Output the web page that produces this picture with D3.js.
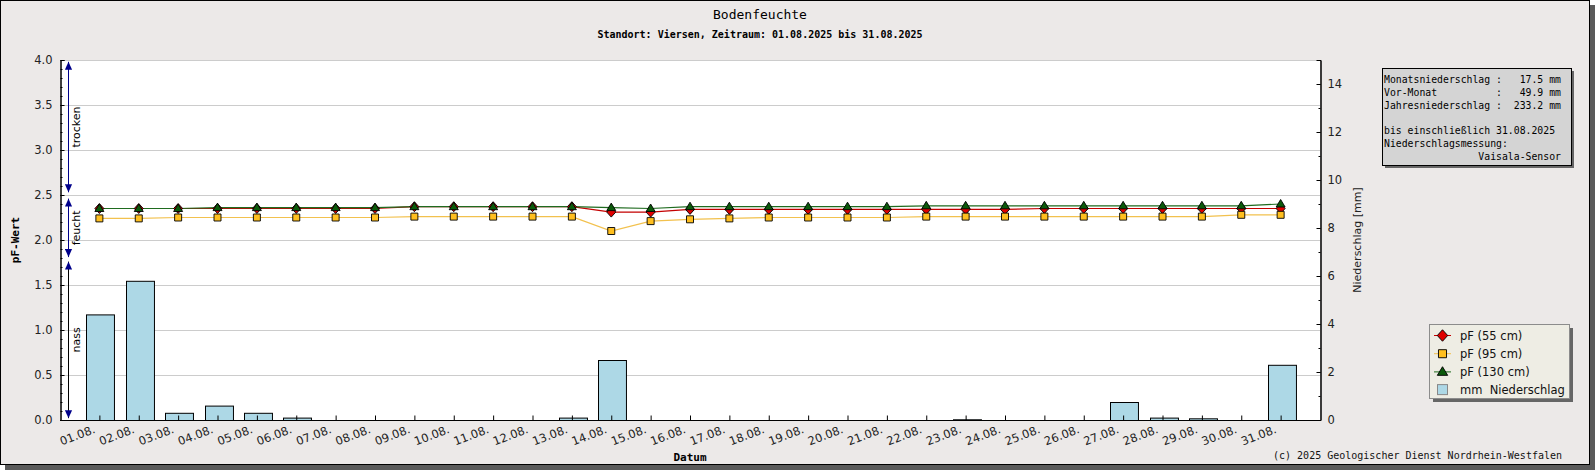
<!DOCTYPE html>
<html>
<head>
<meta charset="utf-8">
<script src="https://cdn.jsdelivr.net/npm/d3@7"></script>
<style>
  body { margin: 0; padding: 0; background: #ffffff; }
  svg text { white-space: pre; }
</style>
</head>
<body>
<div id="chart"></div>
<script>
// categories (days of August 2025)
var days = ["01.08.", "02.08.", "03.08.", "04.08.", "05.08.", "06.08.", "07.08.", "08.08.",
            "09.08.", "10.08.", "11.08.", "12.08.", "13.08.", "14.08.", "15.08.", "16.08.",
            "17.08.", "18.08.", "19.08.", "20.08.", "21.08.", "22.08.", "23.08.", "24.08.",
            "25.08.", "26.08.", "27.08.", "28.08.", "29.08.", "30.08.", "31.08."]

// daily precipitation [mm]
var rain = [4.4, 5.8, 0.3, 0.6, 0.3, 0.1, 0, 0, 0, 0, 0, 0, 0.1, 2.5, 0, 0,
            0, 0, 0, 0, 0, 0, 0.03, 0, 0, 0, 0.75, 0.1, 0.07, 0, 2.3]

// pF values per depth
var pf55 = [2.35, 2.35, 2.35, 2.35, 2.35, 2.35, 2.35, 2.35, 2.37, 2.37, 2.37, 2.37, 2.37, 2.31, 2.31, 2.34,
            2.34, 2.34, 2.34, 2.34, 2.34, 2.34, 2.34, 2.34, 2.35, 2.35, 2.35, 2.35, 2.35, 2.35, 2.35]
var pf95 = [2.24, 2.24, 2.25, 2.25, 2.25, 2.25, 2.25, 2.25, 2.26, 2.26, 2.26, 2.26, 2.26, 2.10, 2.21, 2.23,
            2.24, 2.25, 2.25, 2.25, 2.25, 2.26, 2.26, 2.26, 2.26, 2.26, 2.26, 2.26, 2.26, 2.28, 2.28]
var pf130 = [2.35, 2.35, 2.35, 2.36, 2.36, 2.36, 2.36, 2.36, 2.37, 2.37, 2.37, 2.37, 2.37, 2.36, 2.35, 2.37,
             2.37, 2.37, 2.37, 2.37, 2.37, 2.38, 2.38, 2.38, 2.38, 2.38, 2.38, 2.38, 2.38, 2.38, 2.40]

// tick values
var leftTicks = [0, 0.5, 1, 1.5, 2, 2.5, 3, 3.5, 4]
var rightTicks = [0, 2, 4, 6, 8, 10, 12, 14]

// moisture zones on the left (pF range)
var zoneNames = ["trocken", "feucht", "nass"]
var zoneLo = [2.53, 1.81, 0.02]
var zoneHi = [3.98, 2.46, 1.76]

// info box text
var infoLines = [
  "Monatsniederschlag :   17.5 mm",
  "Vor-Monat          :   49.9 mm",
  "Jahresniederschlag :  233.2 mm",
  "",
  "bis einschließlich 31.08.2025",
  "Niederschlagsmessung:",
  "                Vaisala-Sensor"
]

var legendNames = ["pF (55 cm)", "pF (95 cm)", "pF (130 cm)", "mm  Niederschlag"]

var width = 1595, height = 470
var margins = {top: 60, left: 60, right: 275, bottom: 50}
var bg = "#ece9e8"
var mono = "'DejaVu Sans Mono', monospace"
var sans = "'DejaVu Sans', sans-serif"

var svg = d3.select("#chart").append("svg")
            .attr("width", width)
            .attr("height", height)

// frame + shadow
svg.append("rect").attr("x", 5).attr("y", 5).attr("width", width - 5).attr("height", height - 5).attr("fill", "#5a5a5a")
svg.append("rect").attr("x", 0.5).attr("y", 0.5).attr("width", 1589).attr("height", 464)
   .attr("fill", bg).attr("stroke", "#000")

var x0 = margins.left, x1 = width - margins.right
var y0 = height - margins.bottom, y1 = margins.top

var scalex = d3.scaleLinear().domain([0, days.length + 1]).range([x0, x1])
var scaley = d3.scaleLinear().domain([0, 4]).range([y0, y1])
var scaler = d3.scaleLinear().domain([0, 15]).range([y0, y1])

// plot background
svg.append("rect").attr("x", x0).attr("y", y1).attr("width", x1 - x0).attr("height", y0 - y1).attr("fill", "#fff")

// grid
svg.append("g").selectAll("line").data(leftTicks).enter().append("line")
   .attr("x1", x0).attr("x2", x1)
   .attr("y1", function (d) { return Math.round(scaley(d)) + 0.5 })
   .attr("y2", function (d) { return Math.round(scaley(d)) + 0.5 })
   .attr("stroke", "#cccccc")

// bars
var step = scalex(1) - scalex(0)
var bw = step * 0.71
svg.append("g").selectAll("rect").data(rain).enter().append("rect")
   .attr("x", function (d, i) { return Math.round(scalex(i + 1) + 1 - bw / 2) + 0.5 })
   .attr("y", function (d) { return scaler(d) + 0.5 })
   .attr("width", bw)
   .attr("height", function (d) { return Math.max(0, y0 - scaler(d)) })
   .attr("fill", "#add8e6")
   .attr("stroke", "#000")
   .attr("stroke-width", 1)

function markerPath(shape) {
  if (shape == "diamond") return "M0,-5L4.5,0L0,5L-4.5,0Z"
  if (shape == "square") return "M-3.5,-3.5H3.5V3.5H-3.5Z"
  return "M0,-4.5L4.5,3L-4.5,3Z"
}

var series = [
  {name: "55", values: pf55, line: "#c40000", fill: "#e00000", shape: "diamond"},
  {name: "95", values: pf95, line: "#f2c14e", fill: "#ffbf1f", shape: "square"},
  {name: "130", values: pf130, line: "#1f6b1f", fill: "#0b5a0b", shape: "triangle"}
]

var linegenerator = d3.line()
                      .x(function (d, i) { return scalex(i + 1) })
                      .y(function (d) { return scaley(d) })

series.forEach(function (s) {
  svg.append("path")
     .attr("d", linegenerator(s.values))
     .attr("stroke", s.line)
     .attr("stroke-width", 1.2)
     .attr("fill", "none")
})
series.forEach(function (s) {
  svg.append("g").selectAll("path").data(s.values).enter().append("path")
     .attr("d", markerPath(s.shape))
     .attr("transform", function (d, i) { return "translate(" + scalex(i + 1) + "," + scaley(d) + ")" })
     .attr("fill", s.fill)
     .attr("stroke", "#000")
     .attr("stroke-width", 0.9)
})

// left axis
var gl = svg.append("g").attr("transform", "translate(" + (x0 + 0.5) + ",0)")
gl.call(d3.axisLeft(scaley).tickValues(d3.range(0, 41).map(function (d) { return d / 10 }))
         .tickSize(-2).tickFormat(""))
gl.append("g").call(d3.axisLeft(scaley).tickValues(leftTicks).tickSize(-4).tickPadding(8)
         .tickFormat(d3.format(".1f")))
gl.selectAll("path.domain").attr("stroke", "#000")
gl.selectAll("text").attr("font-family", sans).attr("font-size", 11.5).attr("fill", "#222")

// right axis
var gr = svg.append("g").attr("transform", "translate(" + (x1 + 0.5) + ",0)")
gr.call(d3.axisRight(scaler).tickValues(d3.range(0, 16)).tickSize(-2).tickFormat(""))
gr.append("g").call(d3.axisRight(scaler).tickValues(rightTicks).tickSize(-4).tickPadding(7)
         .tickFormat(d3.format("d")))
gr.selectAll("text").attr("font-family", sans).attr("font-size", 11.5).attr("fill", "#222")

// bottom axis
var gb = svg.append("g").attr("transform", "translate(0," + (y0 + 0.5) + ")")
gb.call(d3.axisBottom(scalex).tickValues(d3.range(1, days.length + 1)).tickSize(-5)
         .tickFormat(function (d) { return days[d - 1] }))
gb.select("path.domain").attr("d", "M" + x0 + ",0H" + x1)
gb.selectAll("text")
  .attr("font-family", sans).attr("font-size", 11.5).attr("fill", "#222")
  .attr("text-anchor", "end").attr("y", 0).attr("dy", 0)
  .attr("transform", "translate(-4,12) rotate(-21)")

// zone arrows
var defs = svg.append("defs")
defs.append("marker").attr("id", "ah").attr("viewBox", "0 0 10 10").attr("refX", 10).attr("refY", 5)
    .attr("markerWidth", 8).attr("markerHeight", 8).attr("orient", "auto-start-reverse")
    .attr("markerUnits", "userSpaceOnUse")
    .append("path").attr("d", "M0,0.5L10,5L0,9.5Z").attr("fill", "#00008b")
var zoneColors = ["#00008b", "#00008b", "#000"]
var ax = x0 + 8.5
zoneNames.forEach(function (z, i) {
  svg.append("line")
     .attr("x1", ax).attr("x2", ax)
     .attr("y1", scaley(zoneHi[i])).attr("y2", scaley(zoneLo[i]))
     .attr("stroke", zoneColors[i]).attr("stroke-width", 1)
     .attr("marker-start", "url(#ah)").attr("marker-end", "url(#ah)")
  var cy = (scaley(zoneHi[i]) + scaley(zoneLo[i])) / 2
  svg.append("text")
     .attr("transform", "translate(" + (x0 + 20) + "," + cy + ") rotate(-90)")
     .attr("text-anchor", "middle")
     .attr("font-family", sans).attr("font-size", 11).attr("fill", "#000")
     .text(z)
})

// titles
svg.append("text").attr("x", 760).attr("y", 19).attr("text-anchor", "middle")
   .attr("font-family", mono).attr("font-size", 13).text("Bodenfeuchte")
svg.append("text").attr("x", 760).attr("y", 38).attr("text-anchor", "middle")
   .attr("font-family", mono).attr("font-size", 10).attr("font-weight", "bold")
   .text("Standort: Viersen, Zeitraum: 01.08.2025 bis 31.08.2025")
svg.append("text").attr("x", (x0 + x1) / 2).attr("y", 461).attr("text-anchor", "middle")
   .attr("font-family", mono).attr("font-size", 11).attr("font-weight", "bold").text("Datum")
svg.append("text").attr("transform", "translate(19," + (y0 + y1) / 2 + ") rotate(-90)")
   .attr("text-anchor", "middle")
   .attr("font-family", mono).attr("font-size", 11).attr("font-weight", "bold").text("pF-Wert")
svg.append("text").attr("transform", "translate(1361," + (y0 + y1) / 2 + ") rotate(-90)")
   .attr("text-anchor", "middle")
   .attr("font-family", sans).attr("font-size", 11).attr("fill", "#222").text("Niederschlag [mm]")
svg.append("text").attr("x", 1562).attr("y", 459).attr("text-anchor", "end")
   .attr("font-family", mono).attr("font-size", 10).attr("fill", "#111")
   .text("(c) 2025 Geologischer Dienst Nordrhein-Westfalen")

// info box
var ib = {x: 1382, y: 68, w: 189, h: 97}
svg.append("rect").attr("x", ib.x + 3).attr("y", ib.y + 3).attr("width", ib.w).attr("height", ib.h).attr("fill", "#666")
svg.append("rect").attr("x", ib.x + 0.5).attr("y", ib.y + 0.5).attr("width", ib.w).attr("height", ib.h)
   .attr("fill", "#d4d4d4").attr("stroke", "#000")
svg.append("g").selectAll("text").data(infoLines).enter().append("text")
   .attr("x", ib.x + 2).attr("y", function (d, i) { return ib.y + 15 + i * 12.8 })
   .attr("font-family", mono).attr("font-size", 9.8).attr("fill", "#000")
   .text(function (d) { return d })

// legend
var lg = {x: 1429, y: 324, w: 140, h: 74}
svg.append("rect").attr("x", lg.x + 4).attr("y", lg.y + 4).attr("width", lg.w).attr("height", lg.h).attr("fill", "#666")
svg.append("rect").attr("x", lg.x + 0.5).attr("y", lg.y + 0.5).attr("width", lg.w).attr("height", lg.h)
   .attr("fill", "#eeede4").attr("stroke", "#8c8c8c")
legendNames.forEach(function (n, i) {
  var ly = lg.y + 11.5 + i * 18.2
  if (i < 3) {
    svg.append("line").attr("x1", lg.x + 5).attr("x2", lg.x + 22).attr("y1", ly).attr("y2", ly)
       .attr("stroke", series[i].line)
    svg.append("path").attr("d", markerPath(series[i].shape))
       .attr("transform", "translate(" + (lg.x + 13.5) + "," + ly + ") scale(1.15)")
       .attr("fill", series[i].fill).attr("stroke", "#000").attr("stroke-width", 0.8)
  } else {
    svg.append("rect").attr("x", lg.x + 8.5).attr("y", ly - 5.5).attr("width", 10).attr("height", 10)
       .attr("fill", "#add8e6").attr("stroke", "#888")
  }
  svg.append("text").attr("x", lg.x + 31).attr("y", ly + 4)
     .attr("font-family", sans).attr("font-size", 11.5).attr("fill", "#111").text(n)
})
</script>
</body>
</html>
